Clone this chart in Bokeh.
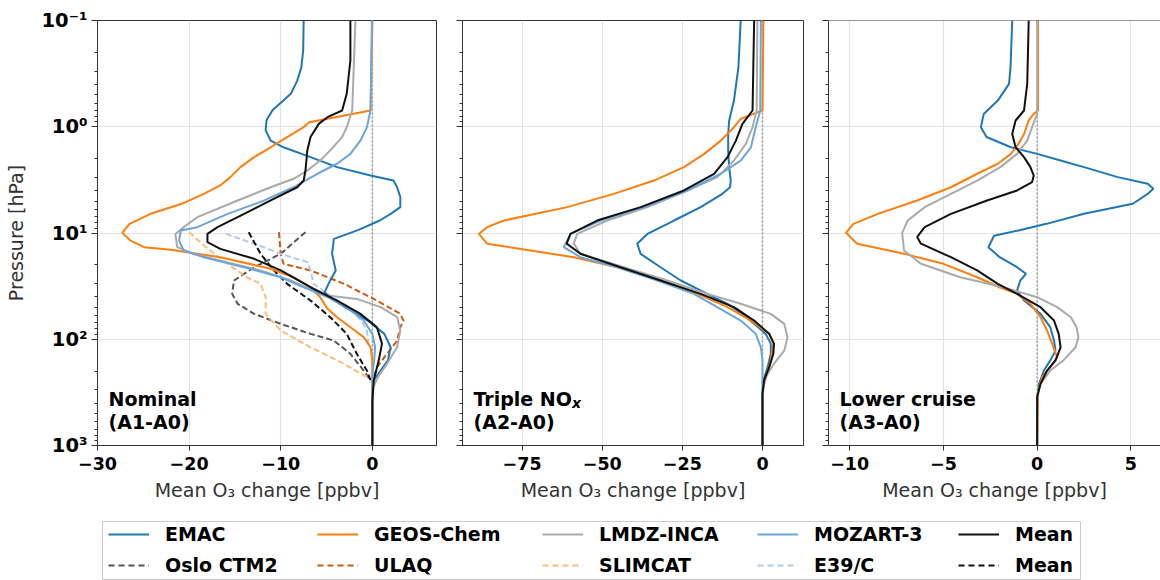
from bokeh.plotting import figure
from bokeh.models import (Range1d, FixedTicker, CustomJSTickFormatter, Span, Label,
                          Legend, LegendItem)
from bokeh.layouts import column, row
from bokeh.embed import file_html
from bokeh.resources import INLINE

FONT = "DejaVu Sans"
NAN = float("nan")

# ---------------- data (pressure in hPa, ozone change in ppbv) ----------------
# Panel 1: Nominal (A1-A0)
p1_emac_p = [0.1, 0.191, 0.275, 0.368, 0.49, 0.70, 0.87, 1.08, 1.35, 1.56, 1.93, 2.4, 2.88, 3.21, 3.71, 4.6, 5.71, 6.6, 7.63, 9.34, 11.35, 15.7, 22.5, 29.0, 36.0, 40.2, 49.9, 66.7, 89.0, 119, 158, 197, 244, 304, 1000]
p1_emac_x = [-7.5, -7.55, -7.75, -8.2, -8.9, -10.9, -11.55, -11.65, -11.1, -9.7, -6.75, -3.85, -0.2, 2.3, 2.7, 3.05, 3.05, 2.0, 0.8, -1.5, -4.2, -4.4, -4.0, -4.7, -5.2, -4.7, -3.0, -0.5, 1.3, 2.0, 1.7, 0.9, 0.15, 0.0, 0.0]

p1_geos_p = [0.1, 0.703, 0.906, 1.01, 1.25, 1.56, 1.93, 2.40, 2.98, 3.57, 4.28, 5.31, 6.60, 8.20, 9.96, 11.8, 13.6, 14.4, 16.9, 21.7, 26.1, 32.4, 40.2, 51.7, 62.0, 77.0, 95.6, 119, 158, 212, 1000]
p1_geos_x = [0.0, -0.2, -6.9, -7.5, -9.3, -11.1, -12.9, -14.4, -15.5, -16.6, -18.4, -20.8, -24.2, -26.5, -27.3, -26.4, -24.9, -22.0, -16.6, -11.1, -8.6, -6.75, -5.7, -4.9, -3.85, -2.4, -0.95, -0.2, 0.0, 0.0, 0.0]

p1_lmdz_p = [0.1, 0.703, 1.01, 1.25, 1.67, 2.08, 2.58, 3.09, 3.71, 4.94, 7.10, 8.81, 10.2, 13.6, 15.7, 18.2, 22.5, 28.0, 34.8, 38.7, 41.7, 49.9, 62.0, 82.8, 119, 170, 227, 283, 1000]
p1_lmdz_x = [-1.85, -2.2, -2.8, -3.3, -4.6, -5.7, -7.1, -8.6, -11.1, -14.7, -19.1, -20.6, -21.5, -21.3, -19.5, -16.6, -12.2, -8.9, -6.4, -4.9, -1.7, 0.9, 2.7, 3.05, 2.7, 1.6, 0.6, 0.1, 0.0]

p1_moz_p = [0.1, 0.703, 1.01, 1.35, 1.80, 2.23, 2.77, 3.71, 4.94, 6.60, 8.81, 9.47, 11.8, 14.6, 16.9, 21.0, 26.1, 32.4, 40.2, 49.9, 66.7, 89.0, 119, 158, 212, 1000]
p1_moz_x = [-0.05, -0.2, -0.6, -1.3, -2.4, -3.85, -6.0, -8.6, -11.8, -15.8, -19.1, -20.9, -21.1, -20.6, -18.4, -14.0, -10.0, -7.5, -4.9, -2.8, -0.95, 0.0, 0.3, 0.2, 0.0, 0.0]

p1_mean_p = [0.1, 0.238, 0.49, 0.703, 0.813, 0.939, 1.25, 1.67, 2.58, 3.21, 3.71, 4.94, 7.10, 8.81, 10.2, 12.2, 14.1, 17.5, 22.5, 32.4, 43.2, 57.7, 77.0, 110, 158, 244, 377, 1000]
p1_mean_x = [-2.4, -2.4, -2.8, -3.3, -4.9, -5.85, -6.75, -7.1, -7.3, -7.5, -8.2, -11.1, -14.7, -16.9, -18.0, -18.0, -16.6, -12.9, -10.0, -6.75, -3.85, -1.3, 0.5, 1.05, 0.7, 0.15, 0.0, 0.0]

p1_oslo_p = [9.82, 15.7, 21.0, 28.0, 37.4, 46.4, 57.7, 71.6, 89.0, 103, 137, 197, 244]
p1_oslo_x = [-7.3, -10.0, -12.9, -15.1, -15.3, -14.7, -12.9, -10.0, -6.75, -4.2, -2.4, -0.95, -0.2]

p1_ulaq_p = [9.82, 15.7, 19.5, 22.5, 30.1, 43.2, 57.7, 66.7, 77.0, 103, 137, 183, 227]
p1_ulaq_x = [-10.2, -10.0, -9.7, -6.75, -3.1, 0.5, 3.05, 3.4, 3.05, 2.7, 1.6, 0.5, 0.15]

p1_slim_p = [9.82, 13.1, 19.5, 26.1, 30.1, 40.2, 57.7, 82.8, 119, 170, 219, 227]
p1_slim_x = [-20.0, -18.4, -15.8, -13.7, -12.2, -11.65, -11.65, -10.0, -6.75, -3.1, -0.95, -0.2]

p1_e39_p = [10.2, 12.6, 15.7, 18.8, 22.5, 30.1, 37.4, 49.9, 66.7, 82.8, 119]
p1_e39_x = [-16.0, -12.9, -10.0, -7.1, -6.75, -6.4, -4.9, -2.6, -1.2, -0.6, -0.4]

p1_meand_p = [9.82, 15.7, 22.5, 30.1, 43.2, 62.0, 89.0, 137, 197, 244]
p1_meand_x = [-13.5, -12.2, -10.75, -9.3, -6.75, -4.6, -2.8, -1.7, -0.6, -0.2]

# Panel 2: Triple NOx (A2-A0)
p2_emac_p = [0.1, 0.275, 0.567, 0.873, 1.17, 1.67, 2.40, 3.21, 3.71, 4.28, 5.71, 7.63, 10.2, 12.6, 15.7, 21.0, 28.0, 37.4, 46.4, 57.7, 71.6, 89.0, 110, 137, 183, 244, 327, 1000]
p2_emac_x = [-6.8, -7.5, -8.9, -10.4, -10.7, -10.7, -10.4, -9.9, -10.1, -12.5, -19.3, -27.6, -35.9, -39.1, -38.0, -31.8, -25.5, -17.2, -10.9, -6.25, -2.6, 1.0, 2.6, 2.6, 1.6, 0.3, 0.0, 0.0]

p2_geos_p = [0.1, 0.703, 0.842, 1.01, 1.35, 1.80, 2.40, 3.21, 4.28, 5.71, 7.63, 8.81, 10.2, 12.6, 14.6, 16.9, 21.0, 28.0, 37.4, 49.9, 66.7, 89.0, 110, 158, 212, 283, 377, 1000]
p2_geos_x = [0.3, 0.0, -6.8, -8.9, -13.0, -18.2, -24.5, -33.9, -46.4, -60.9, -80.7, -85.9, -88.5, -85.9, -72.4, -58.9, -45.3, -31.8, -20.3, -10.9, -3.6, 2.1, 3.4, 2.6, 1.4, 0.3, 0.0, 0.0]

p2_lmdz_p = [0.1, 0.703, 1.01, 1.45, 2.08, 2.98, 3.98, 5.71, 7.63, 10.2, 12.6, 15.7, 21.0, 28.0, 37.4, 46.4, 57.7, 71.6, 95.6, 128, 170, 227, 304, 1000]
p2_lmdz_x = [-1.6, -1.8, -3.1, -5.2, -8.9, -14.1, -23.4, -35.9, -48.4, -57.8, -58.9, -56.8, -43.2, -29.7, -17.2, -6.8, 2.6, 6.8, 7.8, 6.8, 3.6, 1.0, 0.1, 0.0]

p2_moz_p = [0.1, 0.703, 1.01, 1.56, 2.08, 2.77, 3.98, 5.71, 7.63, 10.2, 13.6, 16.9, 21.0, 28.0, 37.4, 49.9, 66.7, 89.0, 119, 158, 1000]
p2_moz_x = [-0.5, -0.7, -2.1, -3.6, -6.8, -13.0, -23.4, -37.0, -50.5, -59.9, -62.0, -56.8, -45.3, -32.8, -21.4, -14.1, -6.8, -2.1, -0.5, 0.0, 0.0]

p2_mean_p = [0.1, 0.703, 0.939, 1.35, 1.93, 2.77, 3.98, 5.71, 7.63, 10.2, 12.6, 15.7, 21.0, 28.0, 37.4, 49.9, 66.7, 89.0, 110, 137, 183, 244, 327, 1000]
p2_mean_x = [-2.6, -3.1, -6.25, -8.3, -10.9, -15.1, -24.5, -38.0, -51.6, -59.9, -61.1, -56.8, -44.3, -31.8, -19.3, -8.9, -2.6, 2.1, 3.6, 3.4, 2.1, 0.5, 0.0, 0.0]

# Panel 3: Lower cruise (A3-A0)
p3_emac_p = [0.1, 0.275, 0.395, 0.567, 0.757, 1.01, 1.25, 1.56, 1.80, 2.08, 2.40, 2.98, 3.44, 3.84, 4.28, 5.31, 6.60, 8.20, 9.47, 10.6, 13.6, 16.9, 21.0, 24.2, 28.0, 34.8, 43.2, 57.7, 77.0, 103, 128, 158, 197, 263, 377, 1000]
p3_emac_x = [-1.33, -1.42, -1.5, -2.1, -2.85, -3.0, -2.7, -1.4, 0.0, 1.25, 2.5, 4.3, 5.9, 6.2, 5.9, 5.1, 2.5, 0.5, -1.0, -2.3, -2.6, -2.0, -1.07, -0.6, -0.9, -1.07, -0.7, 0.18, 0.7, 0.9, 0.98, 0.7, 0.36, 0.1, 0.0, 0.0]

p3_geos_p = [0.1, 0.703, 0.757, 0.873, 1.17, 1.45, 1.80, 2.23, 2.77, 3.71, 4.94, 6.60, 8.20, 9.96, 12.6, 15.7, 19.5, 26.1, 32.4, 37.4, 46.4, 62.0, 82.8, 110, 148, 183, 227, 304, 1000]
p3_geos_x = [0.05, 0.05, -0.18, -0.45, -0.7, -1.0, -1.4, -2.1, -3.2, -4.6, -6.4, -8.5, -9.8, -10.2, -9.6, -7.1, -5.0, -3.2, -2.0, -1.07, -0.36, 0.18, 0.53, 0.8, 1.07, 0.7, 0.27, 0.05, 0.0]

p3_lmdz_p = [0.1, 0.757, 1.01, 1.35, 1.80, 2.40, 3.21, 4.28, 5.71, 7.63, 9.96, 14.6, 19.5, 26.1, 32.4, 40.2, 49.9, 62.0, 77.0, 95.6, 119, 158, 197, 263, 350, 1000]
p3_lmdz_x = [0.0, 0.0, -0.27, -0.53, -1.07, -1.96, -3.2, -4.6, -6.0, -6.9, -7.2, -7.1, -6.2, -4.1, -1.8, 0.0, 1.07, 1.8, 2.1, 2.2, 2.05, 1.4, 0.7, 0.18, 0.0, 0.0]

p3_mean_p = [0.1, 0.395, 0.703, 0.873, 1.17, 1.56, 1.93, 2.40, 2.88, 3.32, 3.98, 4.94, 6.60, 8.81, 10.9, 12.6, 16.9, 22.5, 30.1, 37.4, 49.9, 66.7, 89.0, 119, 158, 197, 263, 350, 1000]
p3_mean_x = [-0.45, -0.53, -0.7, -1.15, -1.33, -1.15, -0.7, -0.36, -0.18, -0.27, -1.07, -2.67, -4.6, -6.0, -6.4, -6.2, -4.6, -3.2, -2.1, -1.07, 0.18, 0.9, 1.15, 1.25, 0.98, 0.53, 0.18, 0.0, 0.0]

# tick values and labels
y_major = [0.1, 1, 10, 100, 1000]
x_ticks_1 = [-30, -20, -10, 0]
x_ticks_2 = [-75, -50, -25, 0]
x_ticks_3 = [-10, -5, 0, 5]
panel_titles = [("Nominal", "(A1-A0)"), ("Triple NO", "(A2-A0)"), ("Lower cruise", "(A3-A0)")]
legend_cols = [("EMAC", "Oslo CTM2"), ("GEOS-Chem", "ULAQ"), ("LMDZ-INCA", "SLIMCAT"),
               ("MOZART-3", "E39/C"), ("Mean", "Mean")]

# ---------------- styles ----------------
C = {
    "EMAC": "#1f77b4", "GEOS-Chem": "#ff7f0e", "LMDZ-INCA": "#aaaaaa", "MOZART-3": "#6aa6dc",
    "Mean": "#111111", "Oslo CTM2": "#555555", "ULAQ": "#cc5a12", "SLIMCAT": "#ffbb78",
    "E39/C": "#aecbeb", "Mean_d": "#111111",
}
DASH = "6 3"
y_minor = [m * 10.0 ** e for e in range(-1, 3) for m in range(2, 10)]

XFMT = "return (tick < 0 ? '\\u2212' : '') + Math.abs(tick);"
YFMT = """
const e = Math.round(Math.log10(tick));
const sup = {'-': '\\u207b', '0': '\\u2070', '1': '\\u00b9', '2': '\\u00b2', '3': '\\u00b3'};
return '10' + String(e).split('').map(c => sup[c]).join('');
"""
YBLANK = "return '';"

PANEL_H = 505


def make_panel(xr, xticks, width, bl, br, first, titles, outline=True):
    p = figure(width=width, height=PANEL_H, x_range=Range1d(*xr), y_range=Range1d(1000, 0.1),
               y_axis_type="log", output_backend="svg", toolbar_location=None,
               min_border_left=bl, min_border_right=br, min_border_top=20, min_border_bottom=60)
    p.outline_line_color = "#333333" if outline else None
    p.outline_line_width = 1
    p.background_fill_color = "white"
    p.border_fill_color = "white"

    p.xaxis.ticker = FixedTicker(ticks=xticks, minor_ticks=[])
    p.xaxis.formatter = CustomJSTickFormatter(code=XFMT)
    p.yaxis.ticker = FixedTicker(ticks=y_major, minor_ticks=y_minor)
    p.xgrid.ticker = FixedTicker(ticks=xticks)
    p.ygrid.ticker = FixedTicker(ticks=y_major)
    p.grid.grid_line_color = "#e3e3e3"
    p.grid.grid_line_width = 1.2

    p.axis.axis_line_color = "#333333"
    p.axis.major_tick_line_color = "#333333"
    p.axis.minor_tick_line_color = "#333333"
    p.axis.major_tick_in = 0
    p.axis.minor_tick_in = 0
    p.xaxis.major_tick_out = 5
    p.xaxis.minor_tick_out = 0
    p.yaxis.major_tick_out = 6
    p.yaxis.minor_tick_out = 3
    p.axis.major_label_text_font = FONT
    p.axis.major_label_text_font_style = "bold"
    p.axis.major_label_text_color = "black"
    p.xaxis.major_label_text_font_size = "17.5px"
    p.xaxis.major_label_standoff = 6
    p.xaxis.axis_label = "Mean O\u2083 change [ppbv]"
    p.axis.axis_label_text_font = FONT
    p.axis.axis_label_text_font_style = "normal"
    p.axis.axis_label_text_font_size = "19px"
    p.axis.axis_label_text_color = "#333333"
    p.xaxis.axis_label_standoff = 6
    p.yaxis.major_label_text_font_size = "19.5px"
    if first:
        p.yaxis.formatter = CustomJSTickFormatter(code=YFMT)
        p.yaxis.major_label_standoff = 4
        p.yaxis.axis_label = "Pressure [hPa]"
        p.yaxis.axis_label_standoff = 12
    else:
        p.yaxis.formatter = CustomJSTickFormatter(code=YBLANK)
        p.yaxis.major_label_standoff = 0
    if not outline:
        p.add_layout(Span(location=0.1, dimension="width", line_color="#333333", line_width=1))

    p.add_layout(Span(location=0, dimension="height", line_color="#9a9a9a",
                      line_dash="2 2", line_width=1.5, level="underlay"))
    for txt, yy in zip(titles, (47, 24)):
        p.add_layout(Label(x=11, y=yy, x_units="screen", y_units="screen", text=txt,
                           text_font=FONT, text_font_style="bold", text_font_size="19px",
                           text_color="black", text_baseline="alphabetic"))
    return p


def solid(p, xs, ps, key):
    p.line(xs, ps, line_color=C[key], line_width=2)


def dashed(p, xs, ps, key):
    p.line(xs, ps, line_color=C[key], line_width=2, line_dash=DASH)


f1 = make_panel((-30, 7), x_ticks_1, 449, 97, 13, True, panel_titles[0])
dashed(f1, p1_oslo_x, p1_oslo_p, "Oslo CTM2")
dashed(f1, p1_ulaq_x, p1_ulaq_p, "ULAQ")
dashed(f1, p1_slim_x, p1_slim_p, "SLIMCAT")
dashed(f1, p1_e39_x, p1_e39_p, "E39/C")
dashed(f1, p1_meand_x, p1_meand_p, "Mean_d")
solid(f1, p1_emac_x, p1_emac_p, "EMAC")
solid(f1, p1_geos_x, p1_geos_p, "GEOS-Chem")
solid(f1, p1_lmdz_x, p1_lmdz_p, "LMDZ-INCA")
solid(f1, p1_moz_x, p1_moz_p, "MOZART-3")
solid(f1, p1_mean_x, p1_mean_p, "Mean")

f2 = make_panel((-93.6, 12.8), x_ticks_2, 366, 13, 12, False, panel_titles[1])
# italic subscript x of "NOx"
f2.add_layout(Label(x=109.5, y=43, x_units="screen", y_units="screen", text="x",
                    text_font=FONT, text_font_style="bold italic", text_font_size="14px",
                    text_color="black", text_baseline="alphabetic"))
solid(f2, p2_emac_x, p2_emac_p, "EMAC")
solid(f2, p2_geos_x, p2_geos_p, "GEOS-Chem")
solid(f2, p2_lmdz_x, p2_lmdz_p, "LMDZ-INCA")
solid(f2, p2_moz_x, p2_moz_p, "MOZART-3")
solid(f2, p2_mean_x, p2_mean_p, "Mean")

f3 = make_panel((-11.13, 6.58), x_ticks_3, 345, 13, 0, False, panel_titles[2], outline=False)
solid(f3, p3_emac_x, p3_emac_p, "EMAC")
solid(f3, p3_geos_x, p3_geos_p, "GEOS-Chem")
solid(f3, p3_lmdz_x, p3_lmdz_p, "LMDZ-INCA")
solid(f3, p3_mean_x, p3_mean_p, "Mean")

# ---------------- legend ----------------
fl = figure(width=1160, height=580 - PANEL_H, x_range=Range1d(0, 1), y_range=Range1d(0, 1),
            output_backend="svg", toolbar_location=None, x_axis_location=None,
            y_axis_location=None, min_border_left=102, min_border_right=80,
            min_border_top=16, min_border_bottom=0)
fl.grid.visible = False
fl.outline_line_color = "#cccccc"
fl.outline_line_width = 1
col_x = [6, 215, 440, 655, 856]
for (top, bot), cx in zip(legend_cols, col_x):
    kb = "Mean_d" if bot == "Mean" else bot
    # invisible (NaN) renderers that only supply the legend swatches
    rt = fl.line([NAN], [NAN], line_color=C[top], line_width=2)
    rb = fl.line([NAN], [NAN], line_color=C[kb], line_width=2, line_dash="6 4")
    leg = Legend(items=[LegendItem(label=top, renderers=[rt]), LegendItem(label=bot, renderers=[rb])],
                 location=(cx, 4), orientation="vertical", border_line_color=None,
                 background_fill_alpha=0, padding=0, margin=0, spacing=9,
                 glyph_width=41, glyph_height=20, label_height=20, label_standoff=16,
                 label_text_font=FONT, label_text_font_style="bold", label_text_font_size="19px",
                 label_text_color="black")
    fl.add_layout(leg, "center")

layout = column(row(f1, f2, f3), fl)
open("out.html", "w").write(file_html(layout, INLINE))
